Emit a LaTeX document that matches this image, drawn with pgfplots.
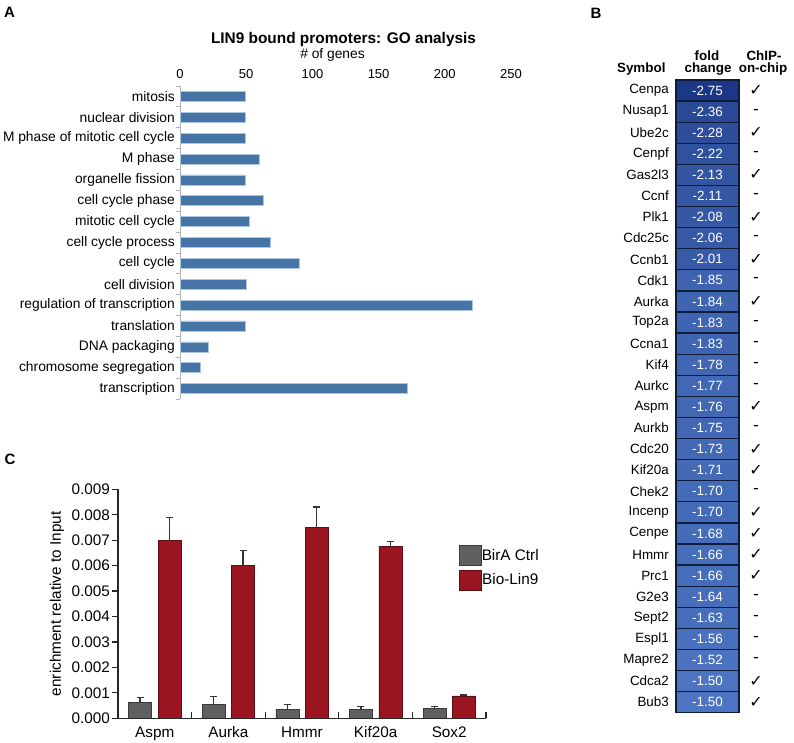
\documentclass[border=0pt]{standalone}
\usepackage{pgfplots}
\pgfplotsset{compat=1.18}
\usepackage{pgfplotstable}
\usepackage{fontspec}
\setmainfont{Liberation Sans}
\newfontfamily\dejavu{DejaVu Sans}
\definecolor{barA}{HTML}{4674A4}
\definecolor{edgeA}{HTML}{A9C6E3}
\definecolor{grayC}{HTML}{5F6062}
\definecolor{redC}{HTML}{9A1520}
\definecolor{cellborder}{HTML}{101C3C}
\definecolor{celldark}{HTML}{1B3785}
\definecolor{celllight}{HTML}{4C74C0}
\definecolor{errcol}{HTML}{333333}
\newcommand\fA{\fontsize{13.8bp}{16bp}\selectfont}
\newcommand\fAt{\fontsize{13bp}{15bp}\selectfont}
\newcommand\fB{\fontsize{13.4bp}{15bp}\selectfont}
\newcommand\fC{\fontsize{15.3bp}{18bp}\selectfont}
\pgfdeclareplotmark{cell}{\pgfpathrectangle{\pgfpoint{-31.5bp}{-10.55bp}}{\pgfpoint{63bp}{21.1bp}}\pgfusepathqfillstroke}
\pgfplotsset{boxlegend/.style={legend image code/.code={\draw[##1, line width=0.6bp] (0bp,-10bp) rectangle (22bp,10bp);}}}

\pgfplotstableread[col sep=comma]{
y,v,label
0,49,mitosis
1,49,nuclear division
2,49,M phase of mitotic cell cycle
3,60,M phase
4,49,organelle fission
5,63,cell cycle phase
6,52,mitotic cell cycle
7,68,cell cycle process
8,90,cell cycle
9,50,cell division
10,221,regulation of transcription
11,49,translation
12,21,DNA packaging
13,15,chromosome segregation
14,172,transcription
}\dataA

\pgfplotstableread{
y sym fc chk cx kx
0 Cenpa -2.75 ✓ 707.5 756
1 Nusap1 -2.36 - 707.5 756
2 Ube2c -2.28 ✓ 707.5 756
3 Cenpf -2.22 - 707.5 756
4 Gas2l3 -2.13 ✓ 707.5 756
5 Ccnf -2.11 - 707.5 756
6 Plk1 -2.08 ✓ 707.5 756
7 Cdc25c -2.06 - 707.5 756
8 Ccnb1 -2.01 ✓ 707.5 756
9 Cdk1 -1.85 - 707.5 756
10 Aurka -1.84 ✓ 707.5 756
11 Top2a -1.83 - 707.5 756
12 Ccna1 -1.83 - 707.5 756
13 Kif4 -1.78 - 707.5 756
14 Aurkc -1.77 - 707.5 756
15 Aspm -1.76 ✓ 707.5 756
16 Aurkb -1.75 - 707.5 756
17 Cdc20 -1.73 ✓ 707.5 756
18 Kif20a -1.71 ✓ 707.5 756
19 Chek2 -1.70 - 707.5 756
20 Incenp -1.70 ✓ 707.5 756
21 Cenpe -1.68 ✓ 707.5 756
22 Hmmr -1.66 ✓ 707.5 756
23 Prc1 -1.66 ✓ 707.5 756
24 G2e3 -1.64 - 707.5 756
25 Sept2 -1.63 - 707.5 756
26 Espl1 -1.56 - 707.5 756
27 Mapre2 -1.52 - 707.5 756
28 Cdca2 -1.50 ✓ 707.5 756
29 Bub3 -1.50 ✓ 707.5 756
}\dataB

\pgfplotstableread{
c g ge r re
0 0.00061 0.00020 0.00700 0.00089
1 0.00056 0.00031 0.00600 0.00060
2 0.00035 0.00020 0.00750 0.00081
3 0.00035 0.00012 0.00675 0.00021
4 0.00038 0.00009 0.00088 0.00004
}\dataC

\begin{document}
\begin{tikzpicture}
\useasboundingbox (0,0) rectangle (794bp,-743bp);

% panel labels
\node[font=\bfseries\fontsize{15bp}{18bp}\selectfont] at (9.5bp,-12bp) {A};
\node[font=\bfseries\fontsize{15bp}{18bp}\selectfont] at (596bp,-13bp) {B};
\node[font=\bfseries\fontsize{15bp}{18bp}\selectfont] at (10bp,-459bp) {C};

% ---------- Panel A ----------
\node[font=\bfseries\fontsize{15.4bp}{18bp}\selectfont, anchor=base] at (343.5bp,-43.8bp) {LIN9 bound promoters: GO analysis};
\node[font=\fA, anchor=base] at (332.5bp,-58.8bp) {\# of genes};
\begin{axis}[
  at={(180bp,-86bp)}, anchor=north west,
  scale only axis, width=331bp, height=313bp,
  xbar, bar width=10bp,
  xmin=0, xmax=250, ymin=-0.5, ymax=14.5, y dir=reverse,
  axis x line*=top, axis y line*=left,
  x axis line style={draw=none},
  y axis line style={draw=gray!60, line width=0.8bp},
  tick align=outside, major tick length=0pt, minor tick length=4bp,
  /pgf/number format/assume math mode=true,
  xtick={0,50,100,150,200,250},
  xticklabel style={font=\fAt, inner sep=0pt, yshift=7bp},
  ytick={0,...,14}, yticklabels from table={\dataA}{label},
  minor ytick={-0.5,0.5,1.5,2.5,3.5,4.5,5.5,6.5,7.5,8.5,9.5,10.5,11.5,12.5,13.5,14.5},
  minor y tick style={draw=gray!60, line width=0.8bp},
  yticklabel style={font=\fA, inner sep=0pt, xshift=-5bp},
  clip=false,
]
\addplot[fill=barA, draw=edgeA, line width=0.6bp] table[x=v, y=y]{\dataA};
\end{axis}

% ---------- Panel B ----------
\node[font=\bfseries\fB, anchor=base east] at (669bp,-72bp) {Symbol};
\node[font=\bfseries\fB, anchor=base] at (707bp,-60bp) {fold};
\node[font=\bfseries\fB, anchor=base] at (708bp,-72bp) {change};
\node[font=\bfseries\fB, anchor=base] at (764bp,-60bp) {ChIP-};
\node[font=\bfseries\fB, anchor=base] at (763bp,-72bp) {on-chip};
\begin{axis}[
  at={(676bp,-80bp)}, anchor=north west,
  scale only axis, width=118bp, height=632.7bp,
  xmin=676, xmax=794, ymin=-0.5, ymax=29.5, y dir=reverse,
  axis line style={draw=none}, tick style={draw=none},
  xtick=\empty,
  ytick={0,...,29}, yticklabels from table={\dataB}{sym},
  yticklabel style={font=\fB, inner sep=0pt, xshift=-7bp},
  colormap={fc}{color=(celldark) color=(celllight)},
  point meta min=-2.75, point meta max=-1.5,
  clip=false,
]
\addplot[scatter, only marks, mark=cell, line width=1.3bp,
  scatter/use mapped color={draw=cellborder, fill=mapped color},
  point meta=explicit]
  table[x=cx, y=y, meta=fc]{\dataB};
\addplot[only marks, mark=none, point meta=explicit,
  nodes near coords={\pgfmathprintnumber[fixed, fixed zerofill, precision=2, assume math mode=true]{\pgfplotspointmeta}},
  nodes near coords align={center},
  every node near coord/.append style={white, font=\fB, inner sep=0pt}]
  table[x=cx, y=y, meta=fc]{\dataB};
\addplot[only marks, mark=none, point meta=explicit symbolic,
  nodes near coords, nodes near coords align={center},
  every node near coord/.append style={black, font=\dejavu\fontsize{16bp}{18bp}\selectfont, inner sep=0pt}]
  table[x=kx, y=y, meta=chk]{\dataB};
\end{axis}

% ---------- Panel C ----------
\begin{axis}[
  at={(118bp,-718.3bp)}, anchor=south west,
  scale only axis, width=368bp, height=229bp,
  ybar, bar width=23bp, boxlegend,
  xmin=-0.5, xmax=4.5, ymin=0, ymax=0.009,
  axis lines*=left, axis line style={line width=1.2bp, draw=black!85},
  tick align=outside, major tick length=6bp,
  xtick={0,1,2,3,4}, xticklabels={Aspm,Aurka,Hmmr,Kif20a,Sox2},
  xtick style={draw=none},
  xticklabel style={font=\fC, inner sep=0pt, yshift=-2bp},
  ytick={0,0.001,0.002,0.003,0.004,0.005,0.006,0.007,0.008,0.009},
  ytick style={line width=1.2bp, draw=black!85},
  scaled y ticks=false,
  /pgf/number format/assume math mode=true,
  yticklabel style={font=\fC, inner sep=0pt, xshift=-2bp, /pgf/number format/fixed, /pgf/number format/fixed zerofill, /pgf/number format/precision=3},
  ylabel={enrichment relative to Input},
  ylabel style={at={(axis description cs:-0.166,0.5)}, anchor=center, font=\fC},
  legend style={at={(axis description cs:0.9266,0.7568)}, anchor=north west, draw=none, fill=none, font=\fC, inner sep=0pt, row sep=4bp, nodes={inner sep=0pt}, /tikz/every even column/.append style={column sep=9bp}},
  clip=false,
]
\addplot[fill=grayC, draw=grayC!60!black, line width=0.6bp, bar shift=-14.7bp,
  error bars/.cd, y dir=plus, y explicit,
  error bar style={line width=1.3bp, draw=errcol},
  error mark options={rotate=90, line width=1.3bp, mark size=3.5bp, draw=errcol}]
  table[x=c, y=g, y error=ge]{\dataC};
\addlegendentry{BirA Ctrl}
\addplot[fill=redC, draw=redC!60!black, line width=0.6bp, bar shift=14.7bp,
  error bars/.cd, y dir=plus, y explicit,
  error bar style={line width=1.3bp, draw=errcol},
  error mark options={rotate=90, line width=1.3bp, mark size=3.5bp, draw=errcol}]
  table[x=c, y=r, y error=re]{\dataC};
\addlegendentry{Bio-Lin9}
\end{axis}
\begin{axis}[
  at={(118bp,-718.3bp)}, anchor=south west,
  scale only axis, width=368bp, height=229bp,
  xmin=-0.5, xmax=4.5, ymin=0, ymax=0.009,
  axis x line*=bottom, axis y line=none,
  x axis line style={line width=1.2bp, draw=black!85},
  xtick={0.5,1.5,2.5,3.5,4.5}, xticklabels={},
  ytick=\empty,
  tick align=inside, major tick length=6bp,
  xtick style={line width=1.2bp, draw=black!85},
]
\end{axis}
\end{tikzpicture}
\end{document}
